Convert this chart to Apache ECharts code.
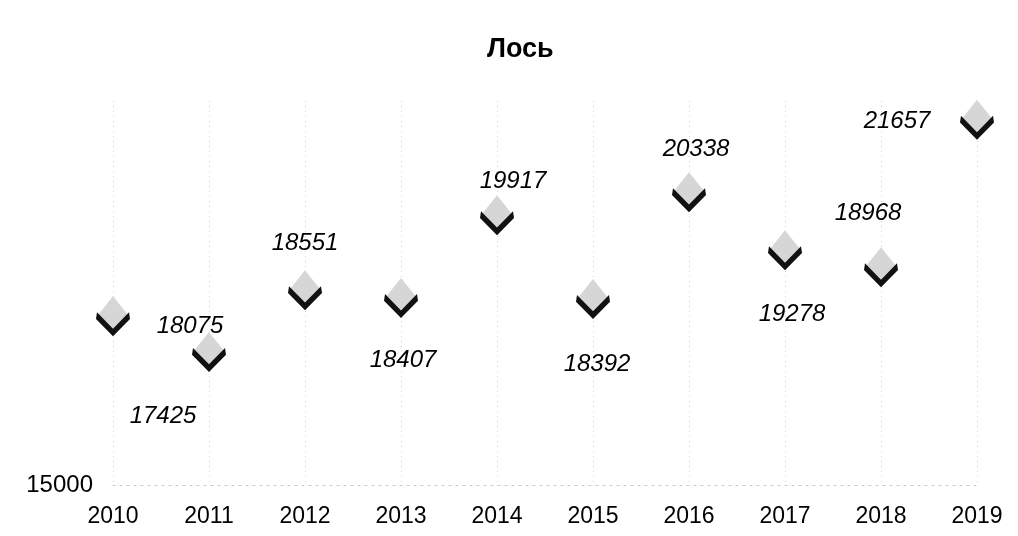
<!DOCTYPE html>
<html>
<head>
<meta charset="utf-8">
<script src="https://cdn.jsdelivr.net/npm/echarts@6/dist/echarts.min.js"></script>
<style>
  html, body { margin: 0; padding: 0; background: #fff; }
  #chart { width: 1018px; height: 536px; }
</style>
</head>
<body>
<div id="chart"></div>
<script>
// data
var years = ["2010", "2011", "2012", "2013", "2014", "2015", "2016", "2017", "2018", "2019"];
var moose = [18075, 17425, 18551, 18407, 19917, 18392, 20338, 19278, 18968, 21657];
var yMin = 15000, yMax = 22000;

// where each number sits relative to its marker (as in the scan)
var labelShift = [[77, 2], [-46, 56], [0, -55], [2, 54], [16, -42], [4, 57], [7, -51], [7, 56], [-13, -62], [-80, -6]];

var chart = echarts.init(document.getElementById("chart"), null, { renderer: "canvas" });
var font = "'Liberation Sans', Arial, sans-serif";

var labelled = moose.map(function (v, i) {
	return {
		value: v,
		label: { offset: labelShift[i] }
	};
});

var option = {
	animation: false,
	title: {
		text: "Лось",
		left: 482,
		top: 31,
		textStyle: { fontFamily: font, fontSize: 27, fontWeight: "bold", color: "#000" }
	},
	grid: { left: 113, right: 41, top: 101, bottom: 51 },
	xAxis: {
		type: "category",
		data: years,
		boundaryGap: false,
		axisLine: { lineStyle: { color: "#c8c8c8", type: [2, 5] } },
		axisTick: { show: false },
		axisLabel: { color: "#000", fontFamily: font, fontSize: 23, margin: 20 },
		splitLine: { show: true, lineStyle: { color: "#d4d4d4", type: [1, 4] } }
	},
	yAxis: {
		type: "value",
		min: yMin,
		max: yMax,
		axisLine: { show: false },
		axisTick: { show: false },
		splitLine: { show: false },
		axisLabel: {
			color: "#000",
			fontFamily: font,
			fontSize: 24,
			margin: 20,
			formatter: function (v) { return v === yMin ? String(v) : ""; }
		}
	},
	series: [
		{
			// light dotted diamond
			type: "scatter",
			data: moose,
			symbol: "diamond",
			symbolSize: [32, 40],
			itemStyle: { color: "#d6d6d6", opacity: 1 },
			silent: true,
			z: 2
		},
		{
			// black tick on the lower edges
			type: "scatter",
			data: labelled,
			symbol: "path://M0 0 L16 17 L32 0 L33 7 L16 25 L-1 7 Z",
			symbolSize: [34, 24],
			symbolOffset: [0, 8],
			itemStyle: { color: "#111", opacity: 1 },
			label: {
				show: true,
				position: "inside",
				color: "#000",
				fontFamily: font,
				fontSize: 24,
				fontStyle: "italic",
				formatter: function (p) { return String(p.value); }
			},
			z: 3
		}
	]
};
chart.setOption(option);
</script>
</body>
</html>
